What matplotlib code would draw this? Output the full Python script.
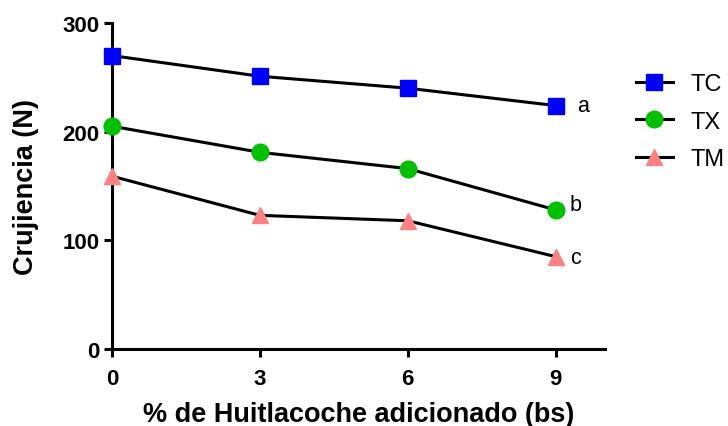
import matplotlib
matplotlib.use("Agg")
import matplotlib.pyplot as plt

# datos
huitlacoche = [0, 3, 6, 9]
tc = [270, 251, 240, 224]
tx = [205, 181, 166, 128]
tm = [159, 123, 118, 85]
letras = ["a", "b", "c"]

plt.rcParams['font.family'] = ['Liberation Sans', 'DejaVu Sans']

fig = plt.figure(figsize=(7.28, 4.27), dpi=100)
ax = fig.add_axes([112/728, 1 - 350/427, (605 - 112)/728, (350 - 24)/427])

series = [
    (tc, "TC", "s", "#0000FF"),
    (tx, "TX", "o", "#00C000"),
    (tm, "TM", "^", "#FF8080"),
]
for vals, name, mk, col in series:
    ax.plot(huitlacoche, vals, color="black", lw=2.2, marker=mk, ms=12,
            markerfacecolor=col, markeredgecolor=col, label=name,
            clip_on=False, zorder=3)

# letras de significancia
ax.text(9.43, tc[-1], letras[0], fontsize=15.5, va="center", ha="left")
ax.text(9.29, tx[-1] + 5, letras[1], fontsize=15.5, va="center", ha="left")
ax.text(9.29, tm[-1] - 1, letras[2], fontsize=15.5, va="center", ha="left")

ax.set_xlim(0, 10)
ax.set_ylim(0, 300)
ax.set_xticks([0, 3, 6, 9])
ax.set_yticks([0, 100, 200, 300])
for s in ["top", "right"]:
    ax.spines[s].set_visible(False)
for s in ["left", "bottom"]:
    ax.spines[s].set_linewidth(2.2)
ax.tick_params(width=2.2, length=6, labelsize=16)
ax.tick_params(axis="x", pad=8)
ax.tick_params(axis="y", pad=3)
for lab in ax.get_xticklabels() + ax.get_yticklabels():
    lab.set_fontweight("bold")

ax.set_xlabel("% de Huitlacoche adicionado (bs)", fontsize=19.5, fontweight="bold", labelpad=8)
ax.set_ylabel("Crujiencia (N)", fontsize=19.5, fontweight="bold", labelpad=17)

fig.legend(loc="upper left", bbox_to_anchor=(636/728, 1 - 74/427), frameon=False,
           fontsize=17, handlelength=1.55, handletextpad=0.75, labelspacing=0.66,
           borderpad=0, borderaxespad=0)

fig.savefig("out.png", dpi=100)
